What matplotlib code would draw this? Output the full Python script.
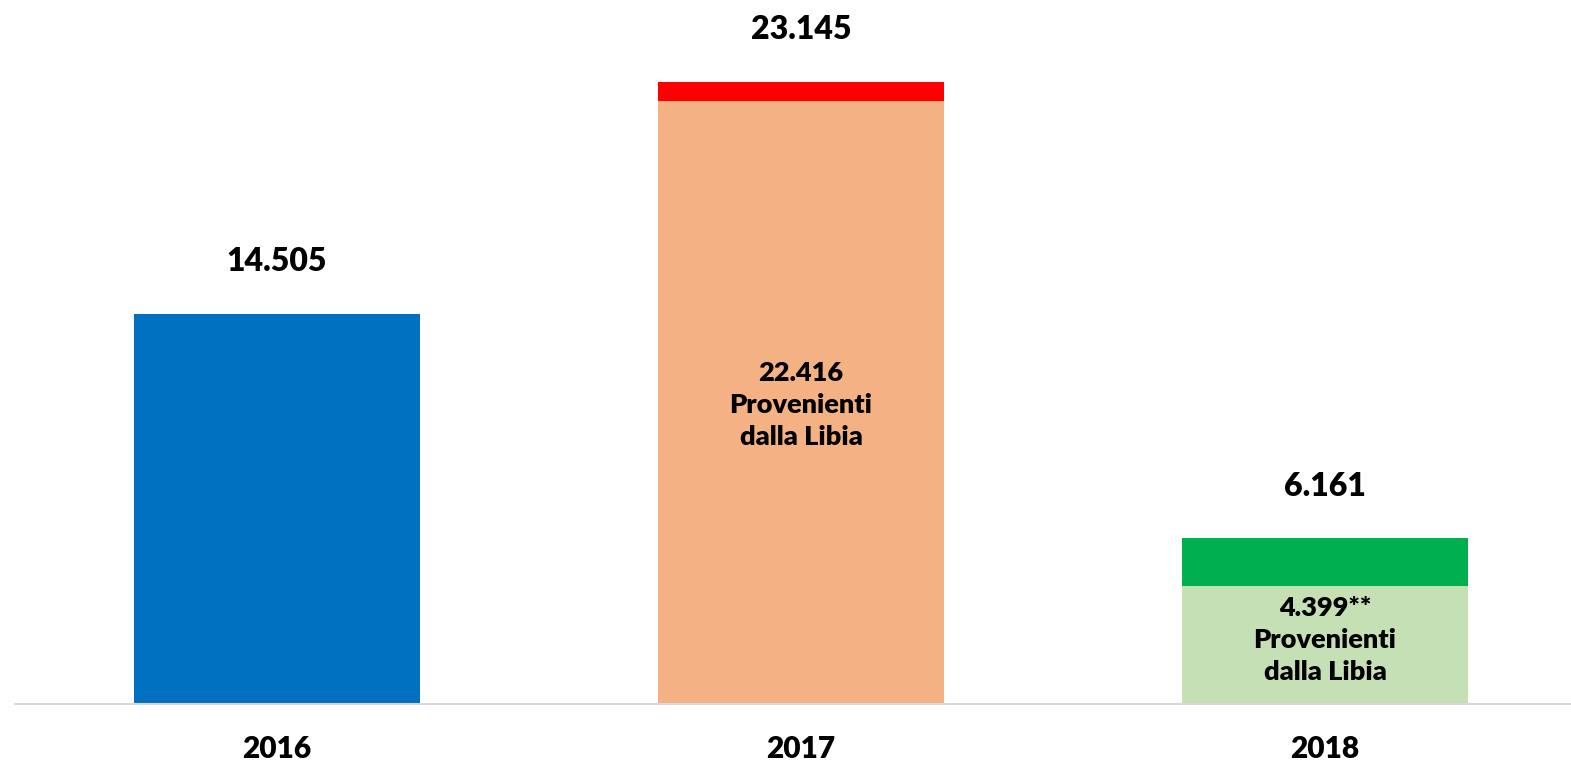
import matplotlib
matplotlib.use("Agg")
import matplotlib.pyplot as plt

years = ["2016", "2017", "2018"]
libia = [0, 22416, 4399]
totals = [14505, 23145, 6161]
total_labels = ["14.505", "23.145", "6.161"]
inner_labels = ["", "22.416\nProvenienti\ndalla Libia", "4.399**\nProvenienti\ndalla Libia"]
base_colors = ["#0070C0", "#F4B183", "#C5E0B4"]
top_colors = ["#0070C0", "#FF0000", "#00B050"]

W, H = 1571, 763
fig = plt.figure(figsize=(W / 100, H / 100), dpi=100)
ax = fig.add_axes([15 / W, 59 / H, 1556 / W, 704 / H])
plt.rcParams['font.family'] = ['Lato', 'DejaVu Sans']
FAM = ['Lato', 'DejaVu Sans']

x = list(range(len(years)))
bw = 0.547
for i in x:
    if libia[i] > 0:
        ax.bar(i, libia[i], width=bw, color=base_colors[i], linewidth=0)
        ax.bar(i, totals[i] - libia[i], bottom=libia[i], width=bw, color=top_colors[i], linewidth=0)
    else:
        ax.bar(i, totals[i], width=bw, color=base_colors[i], linewidth=0)

YMAX = 26180
ppu = 704 / YMAX  # pixels per unit
for i in x:
    ax.annotate(total_labels[i], (i, totals[i]), xytext=(0, 52 * 0.72), textcoords="offset points",
                ha="center", va="center", fontsize=23, fontweight="heavy", family=FAM)

# inner labels
inner_y_px = [None, 405, 640]  # center pixel from top
for i in x:
    if inner_labels[i]:
        yv = (704 - inner_y_px[i]) / ppu
        ax.text(i, yv, inner_labels[i], ha="center", va="center", fontsize=19.5, fontweight="heavy",
                linespacing=1.4, family=FAM)

ax.set_xlim(-0.5, (W - 15) / 524 - 0.5)
ax.set_ylim(0, YMAX)
ax.set_xticks(x)
ax.set_xticklabels(years, fontsize=21.5, fontweight="heavy", family=FAM)
ax.tick_params(axis="x", length=0, pad=22)
ax.set_yticks([])
for s in ["top", "right", "left"]:
    ax.spines[s].set_visible(False)
ax.spines["bottom"].set_color("#D9D9D9")
ax.spines["bottom"].set_linewidth(1.5)

fig.savefig("out.png", dpi=100)
